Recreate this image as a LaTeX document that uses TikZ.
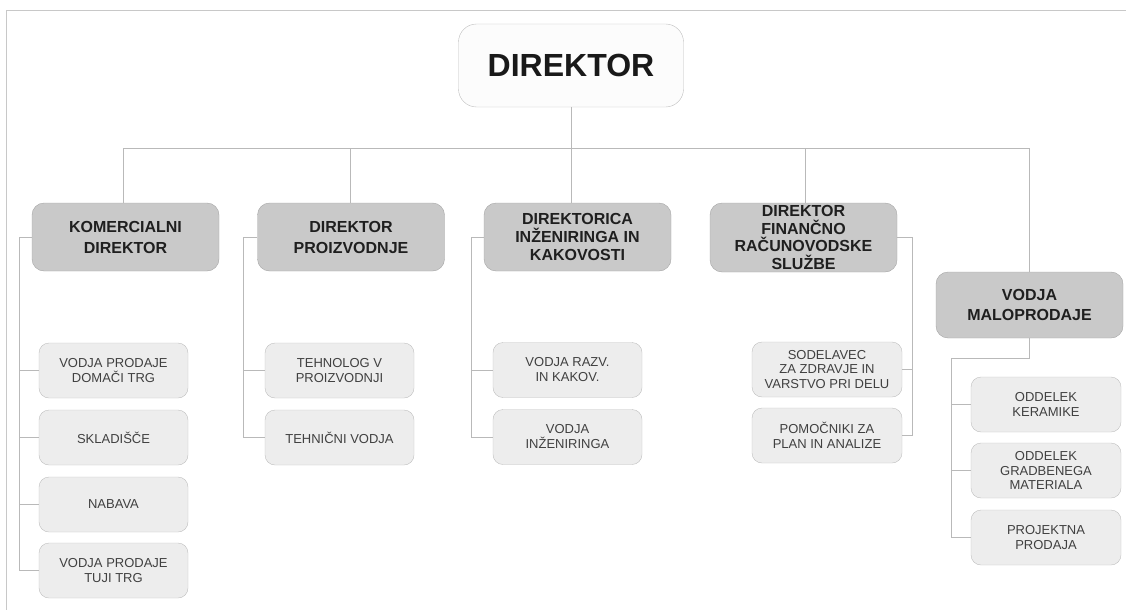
\documentclass[tikz,border=0pt]{standalone}
\usepackage{fontspec}
\setmainfont{Liberation Sans}
\usepackage{xcolor}
\definecolor{headfill}{RGB}{252,252,252}
\definecolor{bossfill}{RGB}{201,201,201}
\definecolor{bossline}{RGB}{165,165,165}
\definecolor{staffill}{RGB}{237,237,237}
\definecolor{stafline}{RGB}{190,190,190}
\definecolor{linkgray}{RGB}{185,185,185}
\definecolor{framegray}{RGB}{200,200,200}

\begin{document}
\begin{tikzpicture}[x=1pt,y=-1pt]
    \tikzset{head/.style = {shape=rectangle, rounded corners=18pt, draw=stafline, fill=headfill, minimum width=225pt, minimum height=83pt, font=\bfseries\fontsize{32}{36}\selectfont, text=black!90}}
    \tikzset{boss/.style = {shape=rectangle, rounded corners=12pt, draw=bossline, fill=bossfill, minimum width=187pt, minimum height=68pt, align=center, inner sep=1pt, font=\bfseries\fontsize{16}{21}\selectfont, text=black!88}}
    \tikzset{staff/.style = {shape=rectangle, rounded corners=10pt, draw=stafline, fill=staffill, minimum width=149pt, minimum height=55pt, align=center, inner sep=1pt, font=\fontsize{13}{15}\selectfont, text=black!75}}
    \tikzset{link/.style = {draw=linkgray, line width=1pt, -}}

    \useasboundingbox (0,0) rectangle (1126,610);
    \draw[framegray, line width=1.2pt] (1126,10.5) -- (6.5,10.5) -- (6.5,610);

    % vertices
    \node[head] (dir) at (571,65.5) {DIREKTOR};

    \node[boss] (kom) at (125.5,237) {KOMERCIALNI\\DIREKTOR};
    \node[boss] (pro) at (351,237) {DIREKTOR\\PROIZVODNJE};
    \node[boss, font=\bfseries\fontsize{16}{17.6}\selectfont] (ink) at (577.5,237) {DIREKTORICA\\INŽENIRINGA IN\\KAKOVOSTI};
    \node[boss, font=\bfseries\fontsize{16}{17.6}\selectfont, minimum height=69pt] (fin) at (803.5,237.5) {DIREKTOR\\FINANČNO\\RAČUNOVODSKE\\SLUŽBE};
    \node[boss, minimum height=66pt, font=\bfseries\fontsize{16}{20}\selectfont] (mal) at (1029.5,305) {VODJA\\MALOPRODAJE};

    \node[staff] (kom1) at (113.5,370.5) {VODJA PRODAJE\\DOMAČI TRG};
    \node[staff] (kom2) at (113.5,437.5) {SKLADIŠČE};
    \node[staff] (kom3) at (113.5,504.5) {NABAVA};
    \node[staff] (kom4) at (113.5,570.5) {VODJA PRODAJE\\TUJI TRG};

    \node[staff] (pro1) at (339.5,370.5) {TEHNOLOG V\\PROIZVODNJI};
    \node[staff] (pro2) at (339.5,437.5) {TEHNIČNI VODJA};

    \node[staff] (ink1) at (567.5,370) {VODJA RAZV.\\IN KAKOV.};
    \node[staff] (ink2) at (567.5,437) {VODJA\\INŽENIRINGA};

    \node[staff, minimum width=150pt, font=\fontsize{13}{14.5}\selectfont] (fin1) at (827,369.5) {SODELAVEC\\ZA ZDRAVJE IN\\VARSTVO PRI DELU};
    \node[staff, minimum width=150pt] (fin2) at (827,435.5) {POMOČNIKI ZA\\PLAN IN ANALIZE};

    \node[staff, minimum width=150pt] (mal1) at (1046,404.5) {ODDELEK\\KERAMIKE};
    \node[staff, minimum width=150pt, font=\fontsize{13}{14.5}\selectfont] (mal2) at (1046,470.5) {ODDELEK\\GRADBENEGA\\MATERIALA};
    \node[staff, minimum width=150pt] (mal3) at (1046,537.5) {PROJEKTNA\\PRODAJA};

    % edges
    \coordinate (bus) at (571,148.5);
    \draw[link] (dir.south) -- (dir.south |- ink.north);
    \draw[link] ([xshift=-2.5pt]kom.north) |- (bus);
    \draw[link] ([xshift=-1pt]pro.north) |- (bus);
    \draw[link] ([xshift=1.5pt]fin.north) |- (bus);
    \draw[link] (mal.north) |- (bus);

    \draw[link] (kom.west) -- ++(-12,0) |- (kom4.west);
    \draw[link] (kom1.west) -- ++(-19,0);
    \draw[link] (kom2.west) -- ++(-19,0);
    \draw[link] (kom3.west) -- ++(-19,0);

    \draw[link] (pro.west) -- ++(-14,0) |- (pro2.west);
    \draw[link] (pro1.west) -- ++(-21,0);

    \draw[link] (ink.west) -- ++(-12,0) |- (ink2.west);
    \draw[link] (ink1.west) -- ++(-21,0);

    \draw[link] (fin.east) -- ++(15,0) |- (fin2.east);
    \draw[link] (fin1.east) -- ++(10,0);

    \draw[link] (mal.south) -- ++(0,20) -| ([xshift=-19pt]mal3.west) -- (mal3.west);
    \draw[link] (mal1.west) -- ++(-19,0);
    \draw[link] (mal2.west) -- ++(-19,0);
\end{tikzpicture}
\end{document}
